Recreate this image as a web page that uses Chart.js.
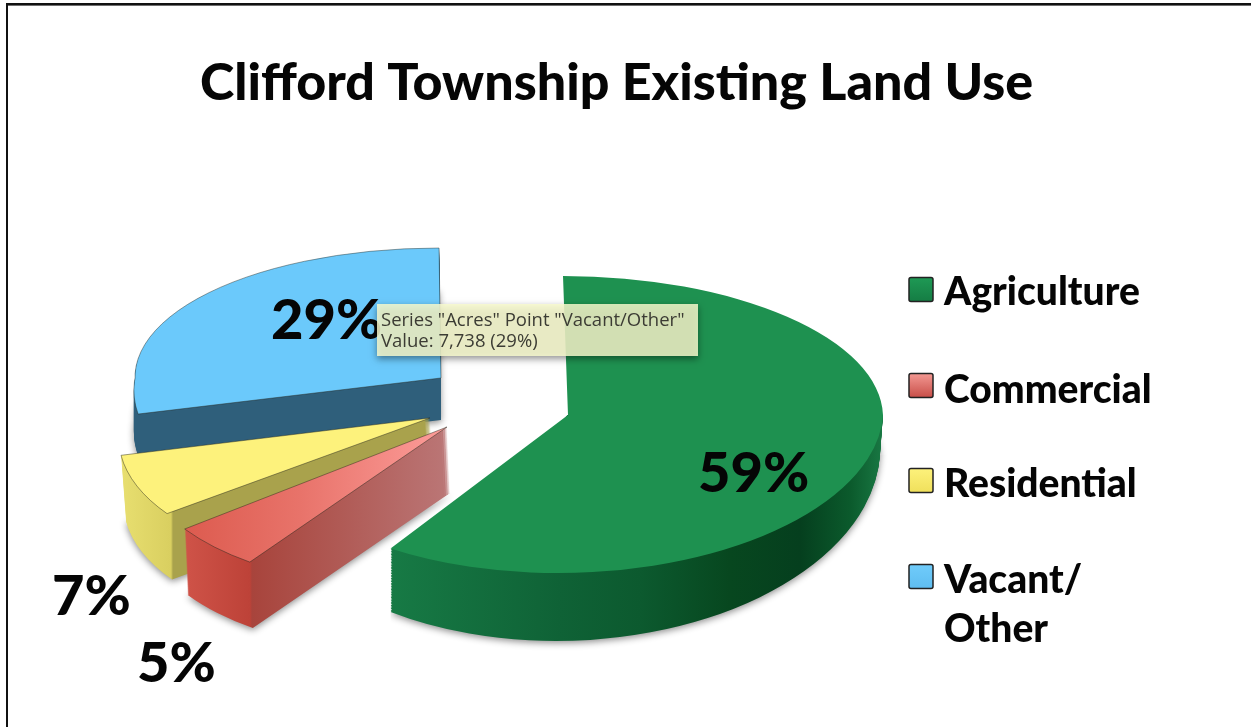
<!DOCTYPE html>
<html><head><meta charset="utf-8">
<style>html,body{margin:0;padding:0;background:#fff;overflow:hidden}canvas{display:block}</style>
<script src="https://cdn.jsdelivr.net/npm/chart.js@4/dist/chart.umd.min.js"></script>
</head><body><canvas id="c" width="1251" height="727"></canvas>
<script>
const TITLE = 'Clifford Township Existing Land Use';
const categories = ['Agriculture', 'Commercial', 'Residential', 'Vacant/Other'];
const percentValues = [59, 5, 7, 29];
const legendLines = [['Agriculture'], ['Commercial'], ['Residential'], ['Vacant/', 'Other']];
const tooltipLines = ['Series "Acres" Point "Vacant/Other"', 'Value: 7,738 (29%)'];

const W = 1251, H = 727;
const FONT = 'Lato, Carlito, sans-serif';
const faces = [
  {ax:568, ay:415, rx:315, up:139, down:158, kUp:0.036, kDown:-0.065, dx:0, dy:40, grow:28, shrink:3, hideCut:true,
   top:[[300,'#1e9150'],[900,'#1e9150']],
   wall:[[390,'#177a45'],[560,'#0f6236'],[640,'#0c5a2f'],[730,'#07471f'],[800,'#053f1e'],[850,'#0b5a2c'],[885,'#1a7a45']]},
  {ax:447, ay:427, rx:310, up:100, down:160, kUp:0, kDown:-0.23, dx:3, dy:66, grow:0, shrink:0, line:true,
   top:[[190,'#dd5c50'],[300,'#e8736a'],[447,'#fd9d9a']],
   wall:[[185,'#cf5348'],[250,'#bd4238'],[252,'#a8443c'],[340,'#b05a55'],[450,'#bb7777']]},
  {ax:430, ay:418, rx:309, up:100, down:150, kUp:0, kDown:-0.26, dx:5, dy:66, grow:0, shrink:0, line:true,
   top:[[100,'#fdf27c'],[430,'#fdf27c']],
   wall:[[120,'#e8df70'],[171,'#d9cf60'],[173,'#a9a24c'],[440,'#a9a24c']]},
  {ax:441, ay:378, rx:306, up:130, down:145, kUp:0.015, kDown:-0.18, dx:0, dy:42, grow:0, shrink:0, line:true,
   top:[[100,'#6bc9fb'],[450,'#6bc9fb']],
   wall:[[100,'#2f5f7b'],[450,'#2f5f7b']]}
];
const legendSwatches = [
  {y:277, fill:['#1f9a55','#157d44']},
  {y:373, fill:['#f49a94','#c9504a']},
  {y:468, fill:['#fdf27c','#f0e05c']},
  {y:564, fill:['#70ccfb','#5fbdf0']}
];
const legendBaselines = [[305],[403],[497],[593,642]];
const percentLabels = [[698,492],[137,682],[52,615],[271,339]];

function applyPose(ctx, arc, pose, ry, k){
  const R = arc.outerRadius;
  ctx.translate(pose.ax, pose.ay);
  ctx.transform(1, 0, k, 1, 0, 0);
  ctx.scale(pose.rx / R, ry / R);
  ctx.translate(-arc.x, -arc.y);
}
function screenGradient(ctx, arc, pose, ry, k, stops){
  const R = arc.outerRadius, A = pose.rx / R, B = k * ry / R;
  const x0 = stops[0][0], x1 = stops[stops.length - 1][0], d = x1 - x0;
  const gx = A / d, gy = B / d, n = gx * gx + gy * gy;
  const px = arc.x + (x0 - pose.ax) / A, py = arc.y;
  const g = ctx.createLinearGradient(px, py, px + gx / n, py + gy / n);
  stops.forEach(s => g.addColorStop((s[0] - x0) / d, s[1]));
  return g;
}
function drawSlice(ctx, arc, pose, face, stops, extra){
  const saved = arc.options;
  [[0, pose.ay, pose.up, face.kUp], [pose.ay, H, pose.down, face.kDown]].forEach(([y0, y1, ry, k]) => {
    ctx.save();
    if (extra && extra.clip) extra.clip(ctx);
    ctx.beginPath(); ctx.rect(0, y0, W, y1 - y0); ctx.clip();
    if (extra && extra.shadow) { ctx.shadowColor = 'rgba(0,0,0,0.45)'; ctx.shadowBlur = 7; ctx.shadowOffsetY = 2; }
    applyPose(ctx, arc, pose, ry, k);
    arc.options = {
      backgroundColor: screenGradient(ctx, arc, pose, ry, k, stops),
      borderColor: 'rgba(40,40,30,0.6)',
      borderWidth: extra && extra.line ? arc.outerRadius / pose.rx * 1 : 0,
      borderAlign: 'center', borderJoinStyle: 'miter', borderDash: [], borderDashOffset: 0,
      borderRadius: 0, circular: true, offset: 0, spacing: 0
    };
    arc.draw(ctx);
    ctx.restore();
  });
  arc.options = saved;
}
const pie3d = {
  id: 'pie3d',
  beforeDraw(chart){
    const ctx = chart.ctx;
    ctx.save();
    ctx.fillStyle = '#fff'; ctx.fillRect(0, 0, W, H);
    ctx.fillStyle = '#111';
    ctx.fillRect(6, 3, W - 6, 2);
    ctx.fillStyle = 'rgba(110,110,110,1)'; ctx.fillRect(6, 5, W - 6, 1);
    ctx.fillStyle = '#111'; ctx.fillRect(6, 3, 2, H - 3);
    ctx.restore();
  },
  beforeDatasetsDraw(chart){
    const ctx = chart.ctx, arcs = chart.getDatasetMeta(0).data;
    [3, 2, 1, 0].forEach(i => {
      const arc = arcs[i], face = faces[i];
      const n = Math.max(1, Math.round(face.dy));
      let clip = null;
      if (face.hideCut) {
        const a = arc.endAngle, cx = face.ax + Math.cos(a) * face.rx + face.kDown * Math.sin(a) * face.down,
              cy = face.ay + Math.sin(a) * face.down;
        clip = c => { c.beginPath(); c.moveTo(cx, cy); c.lineTo(face.ax, face.ay); c.lineTo(W, face.ay); c.lineTo(W, H); c.lineTo(cx, H); c.closePath(); c.clip(); };
      }
      for (let s = n; s >= 1; s--) {
        const t = s / n;
        const pose = {ax: face.ax + face.dx * t, ay: Math.round(face.ay + face.dy * t), rx: face.rx - face.shrink * t, up: face.up, down: face.down + face.grow * t};
        drawSlice(ctx, arc, pose, face, face.wall, {clip, shadow: s === n});
      }
      drawSlice(ctx, arc, face, face, face.top, {line: face.line});
    });
    return false;
  },
  afterDraw(chart){
    const ctx = chart.ctx;
    ctx.save();
    ctx.textBaseline = 'alphabetic'; ctx.textAlign = 'left';
    ctx.fillStyle = '#050505';
    ctx.font = '900 56px ' + FONT;
    percentValues.forEach((v, i) => ctx.fillText(v + '%', percentLabels[i][0], percentLabels[i][1]));
    categories.forEach((c, i) => {
      const s = legendSwatches[i];
      const g = ctx.createLinearGradient(0, s.y, 0, s.y + 24);
      g.addColorStop(0, s.fill[0]); g.addColorStop(1, s.fill[1]);
      ctx.fillStyle = g; ctx.strokeStyle = '#222'; ctx.lineWidth = 1.5;
      ctx.beginPath(); ctx.roundRect(909, s.y + 0.5, 24, 24, 2); ctx.fill(); ctx.stroke();
      ctx.fillStyle = '#050505';
      ctx.font = '900 39px ' + FONT;
      legendLines[i].forEach((l, j) => ctx.fillText(l, 944, legendBaselines[i][j]));
    });
    ctx.save();
    ctx.shadowColor = 'rgba(0,0,0,0.5)'; ctx.shadowBlur = 7; ctx.shadowOffsetY = 3;
    ctx.fillStyle = 'rgba(248,250,205,0.84)';
    ctx.fillRect(377, 304, 321, 52);
    ctx.restore();
    ctx.fillStyle = '#3c3c34';
    ctx.font = '18.5px "Open Sans", sans-serif';
    ctx.fillText(tooltipLines[0], 381, 326);
    ctx.fillText(tooltipLines[1], 381, 347);
    ctx.restore();
  }
};
new Chart(document.getElementById('c'), {
  type: 'pie',
  data: { labels: categories, datasets: [{ label: 'Acres', data: percentValues, backgroundColor: faces.map(f => f.top[0][1]), borderWidth: 0 }] },
  options: {
    responsive: false, animation: false, events: [],
    layout: { padding: { left: 200 } },
    plugins: {
      legend: { display: false }, tooltip: { enabled: false },
      title: { display: true, text: TITLE, align: 'start', color: '#050505',
        font: { family: FONT, size: 52, weight: '900' }, padding: { top: 52, bottom: 10 } }
    }
  },
  plugins: [pie3d]
});
</script></body></html>
